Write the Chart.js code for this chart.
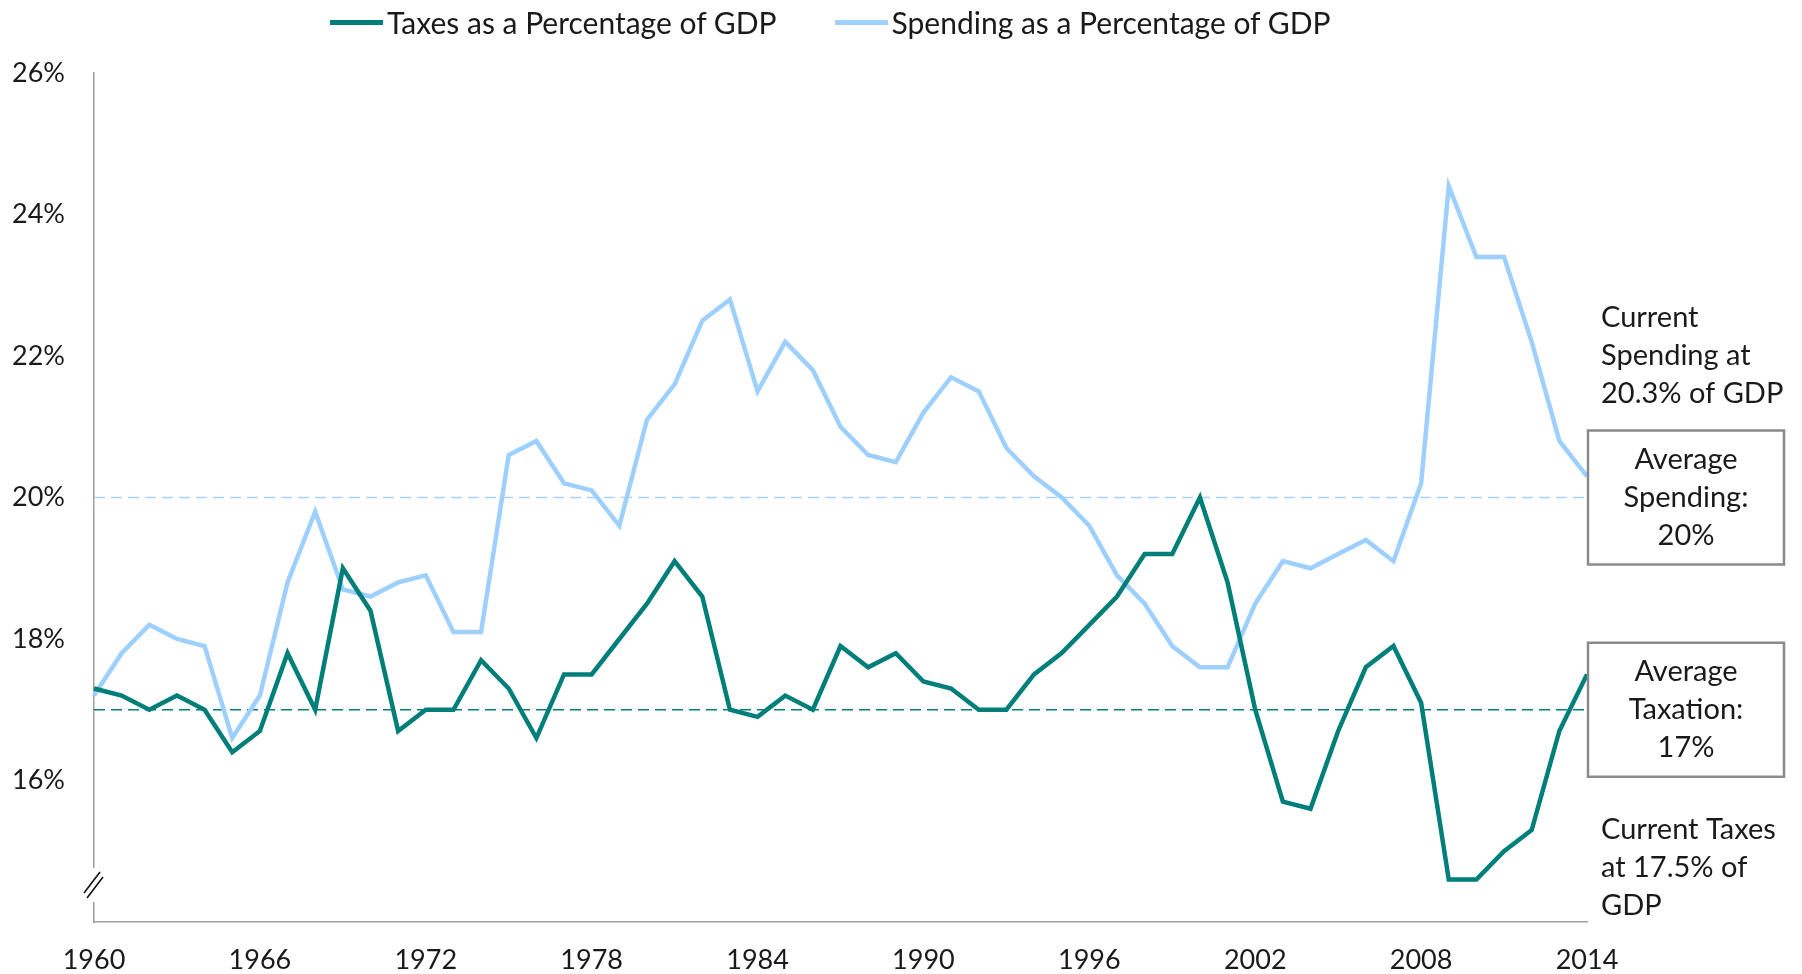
<!DOCTYPE html>
<html>
<head>
<meta charset="utf-8">
<script src="https://cdn.jsdelivr.net/npm/chart.js@4.4.1/dist/chart.umd.min.js"></script>
<style>
  body { margin: 0; background: #fff; }
  #wrap { position: relative; width: 1802px; height: 974px; }
  #legend { position: absolute; top: 4px; left: 330px; display: flex; align-items: center;
            font-family: Lato, sans-serif; font-size: 30px; color: #1a1a1a; }
  #legend .item { display: flex; align-items: center; margin-right: 58px; }
  #legend .swatch { display: inline-block; width: 53px; height: 5px; margin-right: 4px; }
</style>
</head>
<body>
<div id="wrap">
  <canvas id="gdpchart" width="1802" height="974"></canvas>
  <div id="legend"></div>
</div>
<script>
var years = ['1960','1961','1962','1963','1964','1965','1966','1967','1968','1969',
             '1970','1971','1972','1973','1974','1975','1976','1977','1978','1979',
             '1980','1981','1982','1983','1984','1985','1986','1987','1988','1989',
             '1990','1991','1992','1993','1994','1995','1996','1997','1998','1999',
             '2000','2001','2002','2003','2004','2005','2006','2007','2008','2009',
             '2010','2011','2012','2013','2014'];

var taxes = [17.3, 17.2, 17.0, 17.2, 17.0, 16.4, 16.7, 17.8, 17.0, 19.0,
             18.4, 16.7, 17.0, 17.0, 17.7, 17.3, 16.6, 17.5, 17.5, 18.0,
             18.5, 19.1, 18.6, 17.0, 16.9, 17.2, 17.0, 17.9, 17.6, 17.8,
             17.4, 17.3, 17.0, 17.0, 17.5, 17.8, 18.2, 18.6, 19.2, 19.2,
             20.0, 18.8, 17.0, 15.7, 15.6, 16.7, 17.6, 17.9, 17.1, 14.6,
             14.6, 15.0, 15.3, 16.7, 17.5];

var spending = [17.2, 17.8, 18.2, 18.0, 17.9, 16.6, 17.2, 18.8, 19.8, 18.7,
                18.6, 18.8, 18.9, 18.1, 18.1, 20.6, 20.8, 20.2, 20.1, 19.6,
                21.1, 21.6, 22.5, 22.8, 21.5, 22.2, 21.8, 21.0, 20.6, 20.5,
                21.2, 21.7, 21.5, 20.7, 20.3, 20.0, 19.6, 18.9, 18.5, 17.9,
                17.6, 17.6, 18.5, 19.1, 19.0, 19.2, 19.4, 19.1, 20.2, 24.4,
                23.4, 23.4, 22.2, 20.8, 20.3];

var avgTaxes = 17;
var avgSpending = 20;

var seriesNames = ['Taxes as a Percentage of GDP', 'Spending as a Percentage of GDP'];
var spendingNote = ['Current', 'Spending at', '20.3% of GDP'];
var spendingBox = ['Average', 'Spending:', '20%'];
var taxBox = ['Average', 'Taxation:', '17%'];
var taxNote = ['Current Taxes', 'at 17.5% of', 'GDP'];

var teal = '#007f7a';
var lightBlue = '#9dd0ff';
var textColor = '#1a1a1a';
var fontFamily = 'Lato, sans-serif';

// average lines, drawn under the series
var avgLines = {
  id: 'avgLines',
  beforeDatasetsDraw: function(chart) {
    var ctx = chart.ctx, area = chart.chartArea, y = chart.scales.y;
    ctx.save();
    ctx.lineWidth = 1.5;
    ctx.setLineDash([11, 6]);
    [[avgSpending, '#a8d4ff'], [avgTaxes, teal]].forEach(function(l) {
      var py = y.getPixelForValue(l[0]);
      ctx.strokeStyle = l[1];
      ctx.beginPath();
      ctx.moveTo(area.left, py);
      ctx.lineTo(area.right, py);
      ctx.stroke();
    });
    ctx.restore();
  }
};

// axis break and the notes on the right
var extras = {
  id: 'extras',
  afterDraw: function(chart) {
    var ctx = chart.ctx, area = chart.chartArea, y = chart.scales.y;
    ctx.save();

    // break on the y axis
    var bx = area.left, by = area.bottom - 37;
    ctx.fillStyle = '#fff';
    ctx.fillRect(bx - 3, by - 17, 6, 34);
    ctx.strokeStyle = '#111';
    ctx.lineWidth = 1.6;
    ctx.beginPath();
    ctx.moveTo(bx - 10, by + 8); ctx.lineTo(bx + 6, by - 13);
    ctx.moveTo(bx - 7, by + 13); ctx.lineTo(bx + 9, by - 8);
    ctx.stroke();

    ctx.font = '29px ' + fontFamily;
    ctx.fillStyle = textColor;
    ctx.textBaseline = 'middle';

    var boxLeft = area.right + 1, boxW = 196, boxH = 134, lh = 38;
    function box(value, lines) {
      var cy = y.getPixelForValue(value);
      ctx.strokeStyle = '#8a8a8a';
      ctx.lineWidth = 2.5;
      ctx.strokeRect(boxLeft, cy - boxH / 2, boxW, boxH);
      ctx.textAlign = 'center';
      lines.forEach(function(t, i) {
        ctx.fillText(t, boxLeft + boxW / 2, cy + (i - 1) * lh);
      });
      return cy;
    }
    var sy = box(avgSpending, spendingBox);
    var ty = box(avgTaxes, taxBox);

    ctx.textAlign = 'left';
    var nx = area.right + 14;
    spendingNote.forEach(function(t, i) {
      ctx.fillText(t, nx, sy - boxH / 2 - 37 - (spendingNote.length - 1 - i) * lh);
    });
    taxNote.forEach(function(t, i) {
      ctx.fillText(t, nx, ty + boxH / 2 + 53 + i * lh);
    });
    ctx.restore();
  }
};

var chartdata = {
  labels: years,
  datasets: [
    {
      label: seriesNames[0],
      data: taxes,
      borderColor: teal,
      backgroundColor: teal,
      borderWidth: 4.5
    },
    {
      label: seriesNames[1],
      data: spending,
      borderColor: lightBlue,
      backgroundColor: lightBlue,
      borderWidth: 4.5
    }
  ]
};

var ctx = document.getElementById('gdpchart');
var lineGraph = new Chart(ctx, {
  type: 'line',
  data: chartdata,
  plugins: [avgLines, extras],
  options: {
    responsive: false,
    animation: false,
    layout: { padding: { top: 73, right: 215, left: 0, bottom: 0 } },
    elements: {
      point: { radius: 0 },
      line: { tension: 0, borderJoinStyle: 'miter' }
    },
    plugins: {
      legend: { display: false },
      tooltip: { enabled: false }
    },
    scales: {
      x: {
        offset: false,
        grid: { display: false, drawTicks: false },
        border: { display: true, color: '#a0a0a0', width: 1.5 },
        ticks: {
          autoSkip: false,
          maxRotation: 0,
          padding: 22,
          color: textColor,
          font: { family: fontFamily, size: 27 },
          callback: function(value) {
            var yr = parseInt(this.getLabelForValue(value), 10);
            return (yr - 1960) % 6 === 0 ? String(yr) : '';
          }
        },
        afterFit: function(scale) { scale.height = 52; }
      },
      y: {
        min: 14,
        max: 26,
        grid: { display: false, drawTicks: false },
        border: { display: true, color: '#a0a0a0', width: 1.5 },
        ticks: {
          stepSize: 2,
          padding: 29,
          color: textColor,
          font: { family: fontFamily, size: 27 },
          callback: function(value) { return value >= 16 ? value + '%' : ''; }
        },
        afterFit: function(scale) { scale.width = 94; }
      }
    }
  }
});

// legend above the plot
var legend = document.getElementById('legend');
chartdata.datasets.forEach(function(ds) {
  var item = document.createElement('div');
  item.className = 'item';
  var sw = document.createElement('span');
  sw.className = 'swatch';
  sw.style.background = ds.borderColor;
  item.appendChild(sw);
  item.appendChild(document.createTextNode(ds.label));
  legend.appendChild(item);
});
</script>
</body>
</html>
